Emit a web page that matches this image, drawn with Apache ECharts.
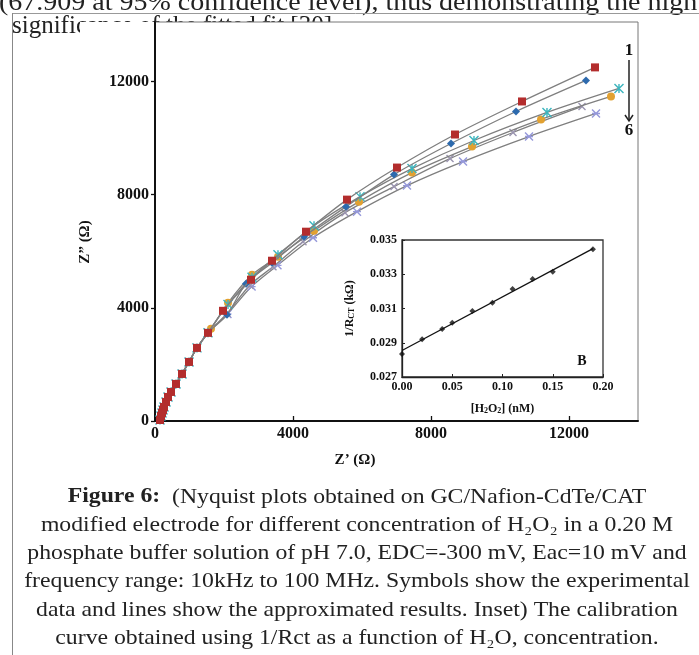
<!DOCTYPE html>
<html lang="en">
<head>
<meta charset="UTF-8">
<title>Figure 6 - Nyquist plots</title>
<script src="https://cdn.jsdelivr.net/npm/echarts@6.0.0/dist/echarts.min.js"></script>
<style>
  html, body { margin: 0; padding: 0; background: #fff; }
  #chart { width: 699px; height: 655px; }
</style>
</head>
<body>
<div id="chart"></div>
<script>
// Nyquist points [Z', Z''] in ohm, curve 1 (top) to curve 6 (bottom)
const curve1 = [[145,35],[174,177],[203,283],[232,389],[261,496],[319,673],[377,850],[464,1027],[609,1310],[783,1664],[986,2088],[1217,2584],[1536,3115],[1971,3894],[2783,4991],[3391,5664],[4377,6690],[5565,7823],[7014,8956],[8696,10124],[10638,11292],[12754,12496]];
const curve2 = [[145,35],[174,177],[203,283],[232,389],[261,496],[319,673],[377,850],[464,1027],[609,1310],[783,1664],[986,2088],[1217,2584],[1536,3115],[2087,3752],[2638,4850],[3391,5593],[4319,6513],[5536,7575],[6928,8708],[8580,9805],[10464,10938],[12493,12035]];
const curve3 = [[145,35],[174,177],[203,283],[232,389],[261,496],[319,673],[377,850],[464,1027],[609,1310],[783,1664],[986,2088],[1217,2584],[1536,3115],[2116,4120],[2812,5080],[3565,5876],[4609,6903],[5942,7929],[7449,8920],[9246,9912],[11362,10903],[13449,11752]];
const curve4 = [[145,35],[174,177],[203,283],[232,389],[261,496],[319,673],[377,850],[464,1027],[609,1310],[783,1664],[986,2088],[1217,2584],[1623,3257],[2116,4177],[2812,5168],[3565,5805],[4609,6726],[5913,7752],[7449,8779],[9188,9699],[11188,10655],[13217,11469]];
const curve5 = [[145,35],[174,177],[203,283],[232,389],[261,496],[319,673],[377,850],[464,1027],[609,1310],[783,1664],[986,2088],[1217,2584],[1536,3115],[2087,3800],[2750,4800],[3420,5450],[4290,6336],[5507,7363],[6928,8283],[8551,9274],[10377,10195],[12377,11115]];
const curve6 = [[145,35],[174,177],[203,283],[232,389],[261,496],[319,673],[377,850],[464,1027],[609,1310],[783,1664],[986,2088],[1217,2584],[1536,3115],[2100,3780],[2800,4750],[3550,5500],[4580,6478],[5855,7398],[7304,8319],[8928,9168],[10841,10053],[12783,10867]];

// inset: calibration 1/Rct vs [H2O2]
const insetConc = [0, 0.02, 0.04, 0.05, 0.07, 0.09, 0.11, 0.13, 0.15, 0.19];
const insetInvRct = [0.02834, 0.0292, 0.0298, 0.03017, 0.03085, 0.03134, 0.03214, 0.03272, 0.03315, 0.03446];
const fitConc = [0, 0.19];
const fitInvRct = [0.02855, 0.0345];

// page text around the figure
const topLine = '(67.909 at 95% confidence level), thus demonstrating the high';
const hiddenLine = 'significance of the fitted fit [30].';
const captionLines = [
  '{b|Figure 6:}  (Nyquist plots obtained on GC/Nafion-CdTe/CAT',
  'modified electrode for different concentration of H₂O₂ in a 0.20 M',
  'phosphate buffer solution of pH 7.0, EDC=-300 mV, Eac=10 mV and',
  'frequency range: 10kHz to 100 MHz. Symbols show the experimental',
  'data and lines show the approximated results. Inset) The calibration',
  'curve obtained using 1/Rct as a function of H₂O, concentration.'
];

const SERIF = '"Liberation Serif", "DejaVu Serif", serif';

const curveStyles = [
  { data: curve1, color: '#b32d2d', symbol: 'rect', size: 8, stroke: false },
  { data: curve2, color: '#2d6aad', symbol: 'diamond', size: 8, stroke: false },
  { data: curve3, color: '#3cb5be', symbol: 'path://M0,0L10,10M10,0L0,10M5,0L5,10', size: 9, stroke: true },
  { data: curve4, color: '#e2a131', symbol: 'circle', size: 8, stroke: false },
  { data: curve5, color: '#9a94b0', symbol: 'path://M0,0L10,10M10,0L0,10', size: 7, stroke: true },
  { data: curve6, color: '#9598da', symbol: 'path://M0,0L10,10M10,0L0,10M0,5L10,5', size: 8, stroke: true }
];

const chart = echarts.init(document.getElementById('chart'), null, { renderer: 'canvas' });

const series = curveStyles.map(function (c, i) {
  return {
    type: 'line',
    xAxisIndex: 0,
    yAxisIndex: 0,
    data: c.data,
    smooth: 0.3,
    symbol: c.symbol,
    symbolSize: c.size,
    showAllSymbol: true,
    z: 10 - i,
    lineStyle: { color: '#7f7f7f', width: 1.3 },
    itemStyle: c.stroke
      ? { color: 'rgba(0,0,0,0)', borderColor: c.color, borderWidth: 1.4 }
      : { color: c.color, borderWidth: 0 },
    emphasis: { disabled: true }
  };
});

series.push({
  type: 'line',
  xAxisIndex: 1,
  yAxisIndex: 1,
  data: fitConc.map(function (x, i) { return [x, fitInvRct[i]]; }),
  symbol: 'none',
  lineStyle: { color: '#111', width: 1.3 },
  z: 5
});
series.push({
  type: 'scatter',
  xAxisIndex: 1,
  yAxisIndex: 1,
  data: insetConc.map(function (x, i) { return [x, insetInvRct[i]]; }),
  symbol: 'diamond',
  symbolSize: 6,
  itemStyle: { color: '#111' },
  z: 6
});

const boldLabel = function (size) {
  return { fontFamily: SERIF, fontWeight: 'bold', fontSize: size, color: '#111' };
};

const graphic = [
  { type: 'text', x: -1, y: 3, scaleX: 1.12, z: -5, style: { text: topLine, font: '25px ' + SERIF, fill: '#222', textAlign: 'left', textVerticalAlign: 'middle' } },
  { type: 'text', x: 12, y: 26, z: -5, style: { text: hiddenLine, font: '25px ' + SERIF, fill: '#222', textAlign: 'left', textVerticalAlign: 'middle' } },
  { type: 'rect', z: -4, shape: { x: 80, y: 22, width: 619, height: 455 }, style: { fill: '#fff' } },
  { type: 'line', z: -3, shape: { x1: 12, y1: 13.5, x2: 699, y2: 13.5 }, style: { stroke: '#999', lineWidth: 1 } },
  { type: 'line', z: -3, shape: { x1: 12.5, y1: 13, x2: 12.5, y2: 655 }, style: { stroke: '#888', lineWidth: 1 } },
  // axis titles of the main plot
  { type: 'text', x: 85, y: 242, rotation: Math.PI / 2, style: { text: 'Z” (Ω)', font: 'bold 15px ' + SERIF, fill: '#111', textAlign: 'center', textVerticalAlign: 'middle' } },
  { type: 'text', x: 355, y: 460, style: { text: 'Z’ (Ω)', font: 'bold 15px ' + SERIF, fill: '#111', textAlign: 'center', textVerticalAlign: 'middle' } },
  // 1 -> 6 arrow
  { type: 'text', x: 629, y: 51, style: { text: '1', font: 'bold 17px ' + SERIF, fill: '#111', textAlign: 'center', textVerticalAlign: 'middle' } },
  { type: 'line', shape: { x1: 629, y1: 60, x2: 629, y2: 121 }, style: { stroke: '#222', lineWidth: 1.5 } },
  { type: 'polyline', shape: { points: [[625, 115], [629, 121], [633, 115]] }, style: { stroke: '#222', lineWidth: 1.5, fill: null } },
  { type: 'text', x: 629, y: 131, style: { text: '6', font: 'bold 17px ' + SERIF, fill: '#111', textAlign: 'center', textVerticalAlign: 'middle' } },
  // inset panel letter
  { type: 'text', x: 582, y: 361, z: 20, style: { text: 'B', font: 'bold 14px ' + SERIF, fill: '#111', textAlign: 'center', textVerticalAlign: 'middle' } }
];

captionLines.forEach(function (line, i) {
  graphic.push({
    type: 'text',
    x: 357,
    y: 497 + i * 28.3,
    scaleX: 1.13,
    style: {
      text: line,
      font: '21px ' + SERIF,
      fill: '#222',
      textAlign: 'center',
      textVerticalAlign: 'middle',
      rich: { b: { fontWeight: 'bold', fontSize: 21, fontFamily: SERIF, fill: '#222' } }
    }
  });
});

const plain = function (v) { return String(v); };

const option = {
  animation: false,
  backgroundColor: '#fff',
  grid: [
    { left: 155, top: 22, width: 483, height: 399, show: true, backgroundColor: 'rgba(0,0,0,0)', borderColor: '#777', borderWidth: 1 },
    { left: 402, top: 240, width: 201, height: 137, show: true, backgroundColor: '#fff', borderColor: '#333', borderWidth: 1.3, z: 3 }
  ],
  xAxis: [
    {
      gridIndex: 0, type: 'value', min: 0, max: 14000, interval: 4000,
      axisLine: { show: true, onZero: false, lineStyle: { color: '#111', width: 2 } },
      axisTick: { show: true, inside: true, length: 5, lineStyle: { color: '#111', width: 1.3 } },
      axisLabel: Object.assign({ showMaxLabel: false, margin: 5, formatter: plain }, boldLabel(16)),
      splitLine: { show: false }
    },
    {
      gridIndex: 1, type: 'value', min: 0, max: 0.2, interval: 0.05, z: 4,
      name: '[H{s|2}O{s|2}] (nM)', nameLocation: 'middle', nameGap: 25,
      nameTextStyle: Object.assign({ rich: { s: { fontSize: 8, fontWeight: 'bold', fontFamily: SERIF, verticalAlign: 'bottom', padding: [5, 0, 0, 0] } } }, boldLabel(12)),
      axisLine: { show: true, onZero: false, lineStyle: { color: '#222', width: 1.3 } },
      axisTick: { show: true, inside: true, length: 3, lineStyle: { color: '#222' } },
      axisLabel: Object.assign({ margin: 4, formatter: function (v) { return v.toFixed(2); } }, boldLabel(12)),
      splitLine: { show: false }
    }
  ],
  yAxis: [
    {
      gridIndex: 0, type: 'value', min: 0, max: 14100, interval: 4000,
      axisLine: { show: true, onZero: false, lineStyle: { color: '#111', width: 2 } },
      axisTick: { show: true, inside: false, length: 4, lineStyle: { color: '#111', width: 1.3 } },
      axisLabel: Object.assign({ showMaxLabel: false, margin: 6, formatter: plain }, boldLabel(16)),
      splitLine: { show: false }
    },
    {
      gridIndex: 1, type: 'value', min: 0.027, max: 0.035, interval: 0.002, z: 4,
      name: '1/R{s|CT} (kΩ)', nameLocation: 'middle', nameGap: 46,
      nameTextStyle: Object.assign({ rich: { s: { fontSize: 8, fontWeight: 'bold', fontFamily: SERIF, verticalAlign: 'bottom', padding: [5, 0, 0, 0] } } }, boldLabel(12)),
      axisLine: { show: true, onZero: false, lineStyle: { color: '#222', width: 1.3 } },
      axisTick: { show: true, inside: true, length: 3, lineStyle: { color: '#222' } },
      axisLabel: Object.assign({ margin: 5, formatter: function (v) { return v.toFixed(3); } }, boldLabel(12)),
      splitLine: { show: false }
    }
  ],
  series: series,
  graphic: graphic
};

chart.setOption(option);
</script>
</body>
</html>
